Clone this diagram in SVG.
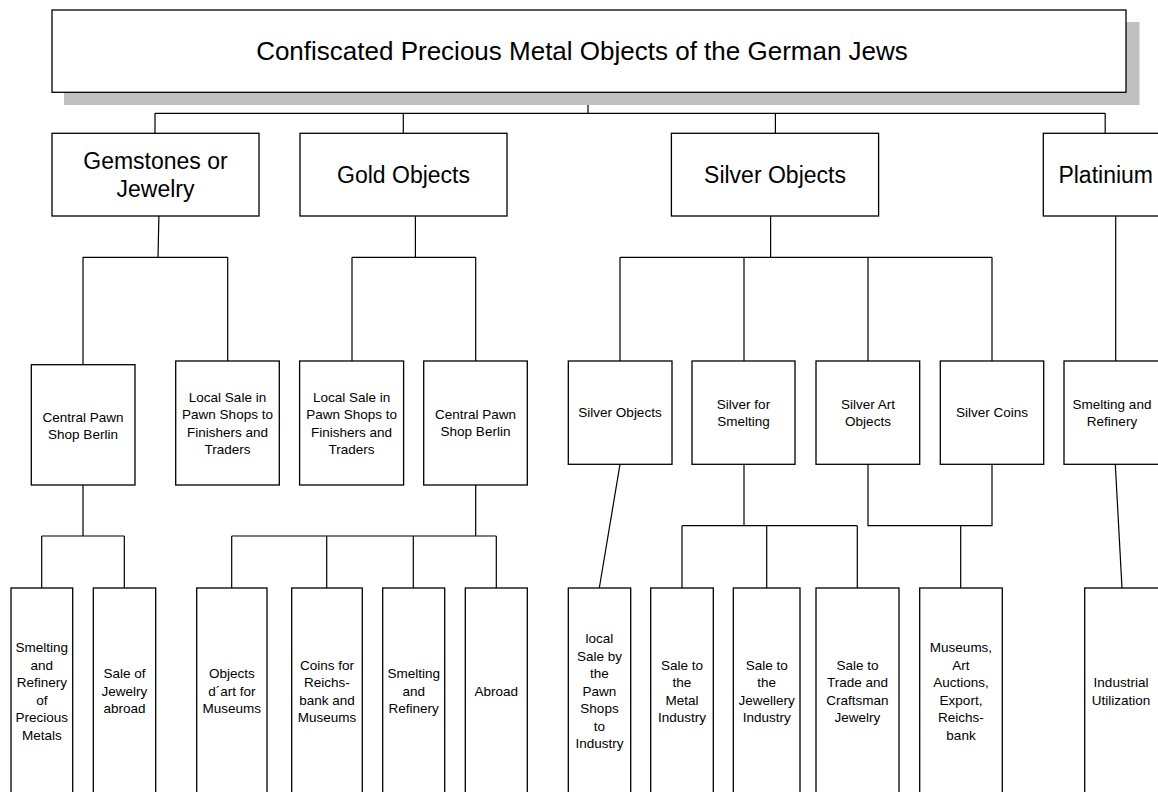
<svg xmlns="http://www.w3.org/2000/svg" width="1158" height="792" viewBox="0 0 1158 792">
<style>
.box{fill:#fff;stroke:#000;stroke-width:1.3}
.shadow{fill:#c0c0c0;stroke:none}
.c{fill:none;stroke:#000;stroke-width:1.2}
text{font-family:"Liberation Sans",Arial,sans-serif;fill:#000;text-anchor:middle}
.t0{font-size:26px}
.t1{font-size:23px}
.t2{font-size:13.5px}
</style>
<rect width="1158" height="792" fill="#fff"/>
<g id="connectors">
<path class="c" d="M588,92.3V113.3M155,113.3H1105.2M155,113.3V133.3M403.3,113.3V133.3M775.4,113.3V133.3M1105.2,113.3V133.3"/>
<path class="c" d="M158.9,216L158,257.3M82.7,257.3H227.7M83,257.3V364.7M227.7,257.3V361"/>
<path class="c" d="M415.4,216V257.3M352,257.3H475.7M352,257.3V361M475.7,257.3V361"/>
<path class="c" d="M770.6,216V257.3M620,257.3H992M620,257.3V361M744,257.3V361M868,257.3V361M992,257.3V361"/>
<path class="c" d="M1115.7,216V361"/>
<path class="c" d="M83,485V536M41.7,536H124.3M41.7,536V588M124.3,536V588"/>
<path class="c" d="M475.7,485V536M231.7,536H496.3M231.7,536V588M326.7,536V588M413.3,536V588M496.3,536V588"/>
<path class="c" d="M620,464.3L599.3,588"/>
<path class="c" d="M744,464.3V525.7M682,525.7H857.3M682,525.7V588M766.7,525.7V588M857.3,525.7V588"/>
<path class="c" d="M868,464.3V525.7H992V464.3M960.7,525.7V588"/>
<path class="c" d="M1115.3,464.3L1122,588"/>
</g>
<g id="title">
<rect class="shadow" x="64" y="22" width="1075.5" height="83"/>
<rect class="box" x="52" y="10" width="1074" height="82.3"/>
<text class="t0" x="582" y="59.5">Confiscated Precious Metal Objects of the German Jews</text>
</g>
<g id="gemstones">
<rect class="box" x="52" y="133.3" width="207" height="82.7"/>
<text class="t1" x="155.5" y="169">Gemstones or</text>
<text class="t1" x="155.5" y="197">Jewelry</text>
</g>
<g id="gold">
<rect class="box" x="300" y="133.3" width="207" height="82.7"/>
<text class="t1" x="403.5" y="183">Gold Objects</text>
</g>
<g id="silver">
<rect class="box" x="671.4" y="133.3" width="207.2" height="82.7"/>
<text class="t1" x="775" y="183">Silver Objects</text>
</g>
<g id="platinium">
<rect class="box" x="1043.3" y="133.3" width="130" height="82.7"/>
<text class="t1" x="1105.7" y="183">Platinium</text>
</g>
<g id="central-pawn-gem">
<rect class="box" x="31.3" y="364.7" width="103.7" height="120.3"/>
<text class="t2" x="83" y="421.5">Central Pawn<tspan x="83" dy="17.5">Shop Berlin</tspan></text>
</g>
<g id="local-sale-gem">
<rect class="box" x="175.7" y="361" width="103.6" height="124"/>
<text class="t2" x="227.5" y="401.5">Local Sale in<tspan x="227.5" dy="17.5">Pawn Shops to</tspan><tspan x="227.5" dy="17.5">Finishers and</tspan><tspan x="227.5" dy="17.5">Traders</tspan></text>
</g>
<g id="local-sale-gold">
<rect class="box" x="299.6" y="361" width="104" height="124"/>
<text class="t2" x="351.6" y="401.5">Local Sale in<tspan x="351.6" dy="17.5">Pawn Shops to</tspan><tspan x="351.6" dy="17.5">Finishers and</tspan><tspan x="351.6" dy="17.5">Traders</tspan></text>
</g>
<g id="central-pawn-gold">
<rect class="box" x="423.7" y="361" width="103.6" height="124"/>
<text class="t2" x="475.5" y="418.5">Central Pawn<tspan x="475.5" dy="17.5">Shop Berlin</tspan></text>
</g>
<g id="silver-objects-2">
<rect class="box" x="568.3" y="361" width="103.7" height="103.3"/>
<text class="t2" x="620" y="417.3">Silver Objects</text>
</g>
<g id="silver-smelting">
<rect class="box" x="692" y="361" width="103" height="103.3"/>
<text class="t2" x="743.5" y="408.6">Silver for<tspan x="743.5" dy="17.5">Smelting</tspan></text>
</g>
<g id="silver-art">
<rect class="box" x="816" y="361" width="103.7" height="103.3"/>
<text class="t2" x="868" y="408.6">Silver Art<tspan x="868" dy="17.5">Objects</tspan></text>
</g>
<g id="silver-coins">
<rect class="box" x="940.3" y="361" width="103.4" height="103.3"/>
<text class="t2" x="992" y="417.3">Silver Coins</text>
</g>
<g id="plat-smelting">
<rect class="box" x="1064" y="361" width="100" height="103.3"/>
<text class="t2" x="1112" y="408.6">Smelting and<tspan x="1112" dy="17.5">Refinery</tspan></text>
</g>
<g id="smelting-precious">
<rect class="box" x="11" y="588" width="61.7" height="210"/>
<text class="t2" x="41.8" y="652">Smelting<tspan x="41.8" dy="17.5">and</tspan><tspan x="41.8" dy="17.5">Refinery</tspan><tspan x="41.8" dy="17.5">of</tspan><tspan x="41.8" dy="17.5">Precious</tspan><tspan x="41.8" dy="17.5">Metals</tspan></text>
</g>
<g id="sale-jewelry-abroad">
<rect class="box" x="93.3" y="588" width="62.4" height="210"/>
<text class="t2" x="124.5" y="678.3">Sale of<tspan x="124.5" dy="17.5">Jewelry</tspan><tspan x="124.5" dy="17.5">abroad</tspan></text>
</g>
<g id="objects-dart">
<rect class="box" x="196.7" y="588" width="70.3" height="210"/>
<text class="t2" x="231.8" y="678.3">Objects<tspan x="231.8" dy="17.5">d´art for</tspan><tspan x="231.8" dy="17.5">Museums</tspan></text>
</g>
<g id="coins-reichsbank">
<rect class="box" x="291.7" y="588" width="70.6" height="210"/>
<text class="t2" x="327" y="669.5">Coins for<tspan x="327" dy="17.5">Reichs-</tspan><tspan x="327" dy="17.5">bank and</tspan><tspan x="327" dy="17.5">Museums</tspan></text>
</g>
<g id="gold-smelting">
<rect class="box" x="382.7" y="588" width="62" height="210"/>
<text class="t2" x="413.7" y="678.3">Smelting<tspan x="413.7" dy="17.5">and</tspan><tspan x="413.7" dy="17.5">Refinery</tspan></text>
</g>
<g id="abroad">
<rect class="box" x="465.3" y="588" width="62" height="210"/>
<text class="t2" x="496.3" y="695.8">Abroad</text>
</g>
<g id="local-sale-industry">
<rect class="box" x="568.3" y="588" width="62.4" height="210"/>
<text class="t2" x="599.5" y="643.3">local<tspan x="599.5" dy="17.5">Sale by</tspan><tspan x="599.5" dy="17.5">the</tspan><tspan x="599.5" dy="17.5">Pawn</tspan><tspan x="599.5" dy="17.5">Shops</tspan><tspan x="599.5" dy="17.5">to</tspan><tspan x="599.5" dy="17.5">Industry</tspan></text>
</g>
<g id="sale-metal">
<rect class="box" x="650.7" y="588" width="62.6" height="210"/>
<text class="t2" x="682" y="669.5">Sale to<tspan x="682" dy="17.5">the</tspan><tspan x="682" dy="17.5">Metal</tspan><tspan x="682" dy="17.5">Industry</tspan></text>
</g>
<g id="sale-jewellery">
<rect class="box" x="733.3" y="588" width="66.7" height="210"/>
<text class="t2" x="766.7" y="669.5">Sale to<tspan x="766.7" dy="17.5">the</tspan><tspan x="766.7" dy="17.5">Jewellery</tspan><tspan x="766.7" dy="17.5">Industry</tspan></text>
</g>
<g id="sale-trade">
<rect class="box" x="816" y="588" width="83" height="210"/>
<text class="t2" x="857.5" y="669.5">Sale to<tspan x="857.5" dy="17.5">Trade and</tspan><tspan x="857.5" dy="17.5">Craftsman</tspan><tspan x="857.5" dy="17.5">Jewelry</tspan></text>
</g>
<g id="museums">
<rect class="box" x="919.7" y="588" width="82.6" height="210"/>
<text class="t2" x="961" y="652">Museums,<tspan x="961" dy="17.5">Art</tspan><tspan x="961" dy="17.5">Auctions,</tspan><tspan x="961" dy="17.5">Export,</tspan><tspan x="961" dy="17.5">Reichs-</tspan><tspan x="961" dy="17.5">bank</tspan></text>
</g>
<g id="industrial">
<rect class="box" x="1084.7" y="588" width="76" height="210"/>
<text class="t2" x="1121" y="687">Industrial<tspan x="1121" dy="17.5">Utilization</tspan></text>
</g>
</svg>
